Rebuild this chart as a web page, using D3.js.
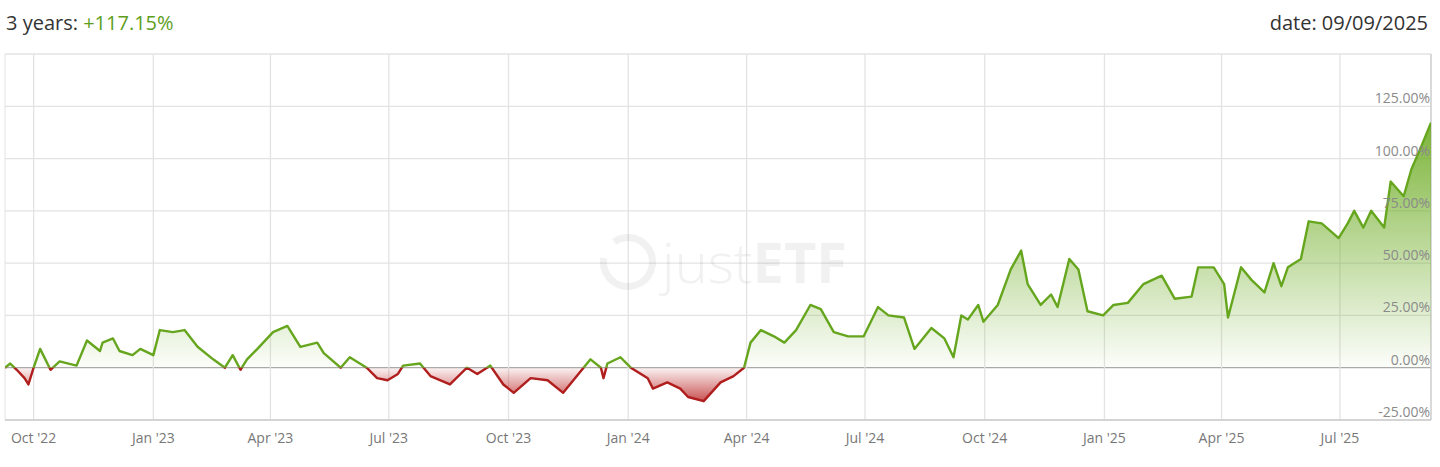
<!DOCTYPE html>
<html><head><meta charset="utf-8">
<script src="https://cdn.jsdelivr.net/npm/d3@7"></script>
<style>body{margin:0;background:#fff;font-family:"Open Sans",sans-serif}</style>
</head><body><svg id="c" width="1440" height="467"></svg>
<script>
const startDate = "2022-09-09";
const endDate = "2025-09-09";
const dayOffsets = [0,4,9,15,18,22,27,35,42,55,63,73,75,83,88,98,104,114,119,129,138,148,160,169,175,181,186,194,206,217,227,240,245,258,265,278,286,294,302,306,319,327,342,355,363,373,383,391,404,417,429,442,450,458,460,463,473,481,494,498,509,519,525,537,550,560,568,573,581,591,599,608,619,627,637,648,660,671,679,691,699,712,722,729,735,740,748,752,763,773,781,786,796,804,809,818,825,832,844,852,863,875,889,899,912,917,929,937,940,950,958,968,975,981,986,996,1002,1012,1025,1032,1037,1044,1050,1060,1065,1075,1081,1088,1096];
const returns = [0,2,-1,-5,-8,0,9,-1,3,1,13,8,12,14,8,6,9,6,18,17,18,10,4,0,6,-1,4,9,17,20,10,12,7,0,5,0,-5,-6,-3,1,2,-4,-8,0,-3,1,-8,-12,-5,-6,-12,-2,4,0,-5,2,5,0,-5,-10,-7,-10,-14,-16,-7,-4,0,12,18,15,12,18,30,28,17,15,15,29,25,24,9,19,14,5,25,23,30,22,30,47,56,40,30,35,29,52,47,27,25,30,31,40,44,33,34,48,48,40,24,48,42,36,50,39,48,52,70,69,62,69,75,67,75,67,89,82,95,105,117.15];
const yTicks = [-25,0,25,50,75,100,125,150];
const xTickDates = ["2022-10-01","2023-01-01","2023-04-01","2023-07-01","2023-10-01","2024-01-01","2024-04-01","2024-07-01","2024-10-01","2025-01-01","2025-04-01","2025-07-01"];
const xTickLabels = ["Oct '22","Jan '23","Apr '23","Jul '23","Oct '23","Jan '24","Apr '24","Jul '24","Oct '24","Jan '25","Apr '25","Jul '25"];

const parse = d3.utcParse("%Y-%m-%d");
const t0 = parse(startDate);
const data = dayOffsets.map((d,i)=>({date:d3.utcDay.offset(t0,d), v:returns[i]}));

const svg = d3.select("#c");
const L=5,R=1431,T=54,B=420;
const x = d3.scaleUtc().domain([t0, parse(endDate)]).range([L,R]);
const y = d3.scaleLinear().domain([-25,150]).range([B,T]);

const h = svg.append("text").attr("x",6).attr("y",30).attr("font-size",20).attr("fill","#333");
h.append("tspan").text("3 years: ");
h.append("tspan").attr("fill","#5d9e1c").text("+117.15%");
svg.append("text").attr("x",1428).attr("y",30).attr("text-anchor","end").attr("font-size",20).attr("fill","#333").text("date: 09/09/2025");

svg.append("g").selectAll("line").data(yTicks).join("line")
 .attr("x1",L).attr("x2",R).attr("y1",d=>y(d)).attr("y2",d=>y(d))
 .attr("stroke",d=>d===0?"#aaa":"#e3e3e3").attr("stroke-width",1.3);
svg.append("g").selectAll("line").data(xTickDates).join("line")
 .attr("x1",d=>x(parse(d))).attr("x2",d=>x(parse(d))).attr("y1",T).attr("y2",B)
 .attr("stroke","#e3e3e3").attr("stroke-width",1.3);
svg.append("line").attr("x1",L).attr("x2",L).attr("y1",T).attr("y2",B).attr("stroke","#e3e3e3");
svg.append("line").attr("x1",R).attr("x2",R).attr("y1",T).attr("y2",B).attr("stroke","#ccc").attr("stroke-width",1.5);
svg.append("line").attr("x1",L).attr("x2",R).attr("y1",B).attr("y2",B).attr("stroke","#ccc").attr("stroke-width",1.5);

const wm = svg.append("g").attr("opacity",0.07);
wm.append("path").attr("d",d3.arc()({innerRadius:21,outerRadius:28,startAngle:-0.6,endAngle:Math.PI*1.55}))
 .attr("transform","translate(628,262)").attr("fill","#444");
wm.append("text").attr("x",662).attr("y",283).attr("font-size",56).attr("fill","#444")
 .html('<tspan font-weight="300">just</tspan><tspan font-weight="bold">ETF</tspan>');

const defs = svg.append("defs");
const gG = defs.append("linearGradient").attr("id","gG").attr("gradientUnits","userSpaceOnUse").attr("x1",0).attr("x2",0).attr("y1",y(120)).attr("y2",y(0));
gG.append("stop").attr("offset",0).attr("stop-color","#6aaa1e").attr("stop-opacity",0.9);
gG.append("stop").attr("offset",1).attr("stop-color","#6aaa1e").attr("stop-opacity",0.02);
const gR = defs.append("linearGradient").attr("id","gR").attr("gradientUnits","userSpaceOnUse").attr("x1",0).attr("x2",0).attr("y1",y(0)).attr("y2",y(-18));
gR.append("stop").attr("offset",0).attr("stop-color","#b81c1c").attr("stop-opacity",0.05);
gR.append("stop").attr("offset",1).attr("stop-color","#b81c1c").attr("stop-opacity",0.85);
defs.append("clipPath").attr("id","above").append("rect").attr("x",L).attr("y",T-10).attr("width",R-L).attr("height",y(0)-T+10);
defs.append("clipPath").attr("id","below").append("rect").attr("x",L).attr("y",y(0)).attr("width",R-L).attr("height",B-y(0));

const area = d3.area().x(d=>x(d.date)).y0(y(0)).y1(d=>y(d.v));
const line = d3.line().x(d=>x(d.date)).y(d=>y(d.v));
svg.append("path").datum(data).attr("d",area).attr("fill","url(#gG)").attr("clip-path","url(#above)");
svg.append("path").datum(data).attr("d",area).attr("fill","url(#gR)").attr("clip-path","url(#below)");
svg.append("path").datum(data).attr("d",line).attr("fill","none").attr("stroke","#66a61e").attr("stroke-width",2.4).attr("stroke-linejoin","round").attr("clip-path","url(#above)");
svg.append("path").datum(data).attr("d",line).attr("fill","none").attr("stroke","#b01e1e").attr("stroke-width",2.4).attr("stroke-linejoin","round").attr("clip-path","url(#below)");

svg.append("g").selectAll("text").data(yTicks.filter(d=>d<150)).join("text")
 .attr("x",1430).attr("y",d=>y(d)-3).attr("text-anchor","end").attr("font-size",14).attr("fill","#8a8a8a")
 .text(d=>d.toFixed(2)+"%");
svg.append("g").selectAll("text").data(xTickDates).join("text")
 .attr("x",d=>x(parse(d))).attr("y",443).attr("text-anchor","middle").attr("font-size",14).attr("fill","#777")
 .text((d,i)=>xTickLabels[i]);
</script></body></html>
